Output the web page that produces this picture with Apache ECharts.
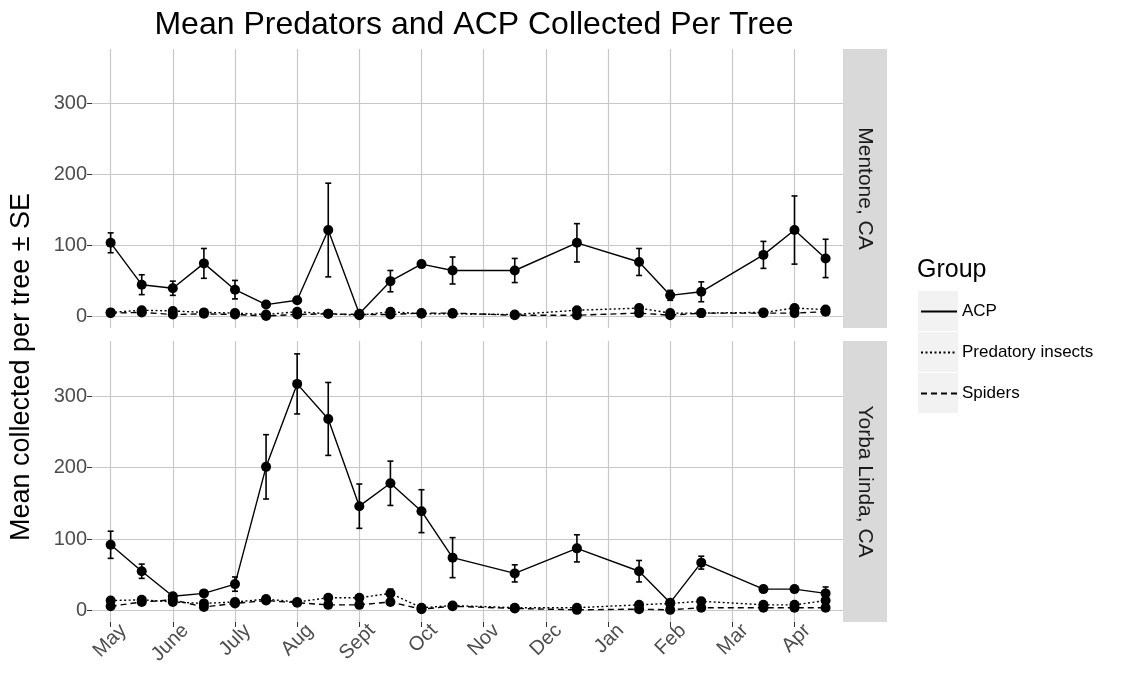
<!DOCTYPE html>
<html>
<head>
<meta charset="utf-8">
<script src="https://cdn.jsdelivr.net/npm/echarts@6/dist/echarts.min.js"></script>
<style>
  html, body { margin: 0; padding: 0; background: #fff; }
  #chart { width: 1141px; height: 682px; }
</style>
</head>
<body>
<div id="chart"></div>
<script>
// Month tick positions (1 = May ... 12 = Apr) and their labels
const monthTicks = [1, 2, 3, 4, 5, 6, 7, 8, 9, 10, 11, 12];
const monthLabels = ['May', 'June', 'July', 'Aug', 'Sept', 'Oct', 'Nov', 'Dec', 'Jan', 'Feb', 'Mar', 'Apr'];
const yTicks = [0, 100, 200, 300];

// Sampling dates, in month units (x.5 = mid-month)
const sampleX = [1, 1.5, 2, 2.5, 3, 3.5, 4, 4.5, 5, 5.5, 6, 6.5, 7.5, 8.5, 9.5, 10, 10.5, 11.5, 12, 12.5];

// Mentone, CA
const mentoneACP     = [104, 45, 40, 75, 38, 17, 23, 122, 4, 50, 74, 65, 65, 104, 77, 30, 35, 87, 122, 82];
const mentoneACPse   = [14, 14, 10, 21, 13, 3, 3, 66, 2, 15, 4, 19, 17, 27, 19, 7, 14, 19, 48, 27];
const mentonePred    = [6, 9, 8, 6, 5, 3, 7, 4, 2, 7, 4, 4, 3, 9, 12, 5, 5, 6, 12, 10];
const mentonePredSe  = [2, 3, 3, 2, 2, 1, 3, 2, 1, 3, 1, 1, 1, 3, 4, 2, 2, 2, 4, 3];
const mentoneSpid    = [5, 6, 3, 4, 3, 1, 3, 4, 3, 3, 5, 5, 2, 2, 5, 2, 5, 5, 5, 7];
const mentoneSpidSe  = [2, 2, 1, 1, 1, 1, 1, 1, 1, 1, 1, 1, 1, 1, 2, 1, 1, 1, 2, 2];

// Yorba Linda, CA
const yorbaACP       = [92, 55, 20, 24, 37, 201, 317, 268, 146, 178, 139, 74, 52, 87, 55, 11, 67, 30, 30, 24];
const yorbaACPse     = [19, 10, 4, 3, 10, 45, 42, 51, 31, 31, 30, 28, 12, 19, 15, 3, 9, 4, 4, 9];
const yorbaPred      = [14, 15, 12, 10, 12, 16, 12, 18, 18, 24, 4, 7, 4, 4, 8, 10, 13, 8, 8, 14];
const yorbaPredSe    = [3, 3, 3, 2, 3, 3, 2, 4, 4, 6, 1, 2, 1, 1, 2, 3, 3, 2, 2, 4];
const yorbaSpid      = [6, 12, 15, 5, 10, 14, 11, 8, 8, 12, 2, 6, 3, 1, 2, 1, 4, 4, 4, 4];
const yorbaSpidSe    = [2, 3, 3, 1, 2, 3, 2, 2, 2, 3, 1, 2, 1, 1, 1, 1, 1, 1, 1, 1];

const groups = ['ACP', 'Predatory insects', 'Spiders'];
const dashes = { 'ACP': 'solid', 'Predatory insects': [2, 2.5], 'Spiders': [6, 4] };

const FONT = '"Liberation Sans", Arial, sans-serif';

const chart = echarts.init(document.getElementById('chart'), null, { renderer: 'canvas' });

const panels = [
  { name: 'Mentone, CA', top: 49, bottom: 328,
    data: { 'ACP': [mentoneACP, mentoneACPse], 'Predatory insects': [mentonePred, mentonePredSe], 'Spiders': [mentoneSpid, mentoneSpidSe] } },
  { name: 'Yorba Linda, CA', top: 341, bottom: 622,
    data: { 'ACP': [yorbaACP, yorbaACPse], 'Predatory insects': [yorbaPred, yorbaPredSe], 'Spiders': [yorbaSpid, yorbaSpidSe] } }
];

const PANEL_LEFT = 92, PANEL_RIGHT = 843, STRIP_W = 44;

function renderErr(params, api) {
  const x = api.value(0), lo = api.value(1), hi = api.value(2);
  const a = api.coord([x, lo]), b = api.coord([x, hi]);
  const w = 3;
  const st = { stroke: '#000', lineWidth: 1.6 };
  return {
    type: 'group',
    children: [
      { type: 'line', shape: { x1: a[0], y1: a[1], x2: b[0], y2: b[1] }, style: st },
      { type: 'line', shape: { x1: a[0] - w, y1: a[1], x2: a[0] + w, y2: a[1] }, style: st },
      { type: 'line', shape: { x1: b[0] - w, y1: b[1], x2: b[0] + w, y2: b[1] }, style: st }
    ]
  };
}

const grids = [], xAxes = [], yAxes = [], series = [], graphics = [];

panels.forEach((p, i) => {
  grids.push({ left: PANEL_LEFT, right: 1141 - PANEL_RIGHT, top: p.top, height: p.bottom - p.top });
  const isBottom = i === panels.length - 1;
  xAxes.push({
    type: 'value', gridIndex: i, min: 0.7, max: 12.78,
    axisLine: { show: false, onZero: false },
    axisTick: { show: isBottom, length: 5, customValues: monthTicks, lineStyle: { color: '#333', width: 1 } },
    axisLabel: {
      show: isBottom, customValues: monthTicks, rotate: 45, margin: 4,
      verticalAlign: 'top', padding: [0, -8, 0, 0],
      color: '#4d4d4d', fontSize: 20, fontFamily: FONT,
      formatter: v => monthLabels[Math.round(v) - 1]
    },
    splitLine: { show: true, lineStyle: { color: '#c8c8c8', width: 1.2 } }
  });
  yAxes.push({
    type: 'value', gridIndex: i, min: -16, max: 377,
    axisLine: { show: false },
    axisTick: { show: true, length: 5, customValues: yTicks, lineStyle: { color: '#333', width: 1 } },
    axisLabel: { customValues: yTicks, margin: 5, color: '#4d4d4d', fontSize: 20, fontFamily: FONT },
    splitLine: { show: true, lineStyle: { color: '#c8c8c8', width: 1.2 } }
  });

  groups.forEach(g => {
    const [vals, se] = p.data[g];
    series.push({
      name: g + ' SE', type: 'custom', xAxisIndex: i, yAxisIndex: i,
      renderItem: renderErr, encode: { x: 0, y: [1, 2] }, silent: true, z: 3,
      data: sampleX.map((x, k) => [x, vals[k] - se[k], vals[k] + se[k]])
    });
    series.push({
      name: g, type: 'line', xAxisIndex: i, yAxisIndex: i,
      data: sampleX.map((x, k) => [x, vals[k]]),
      symbol: 'circle', symbolSize: 10, showSymbol: true,
      itemStyle: { color: '#000' },
      lineStyle: { color: '#000', width: 1.4, type: dashes[g] },
      animation: false, z: 4
    });
  });

  // facet strip on the right
  graphics.push({
    type: 'rect', left: PANEL_RIGHT, top: p.top,
    shape: { width: STRIP_W, height: p.bottom - p.top }, style: { fill: '#d9d9d9' }, silent: true
  });
  graphics.push({
    type: 'text', x: PANEL_RIGHT + STRIP_W / 2, y: (p.top + p.bottom) / 2, rotation: -Math.PI / 2,
    style: { text: p.name, fill: '#1a1a1a', fontSize: 21, fontFamily: FONT, align: 'center', verticalAlign: 'middle' },
    silent: true
  });
});

// y axis title
graphics.push({
  type: 'text', x: 22, y: 367, rotation: Math.PI / 2,
  style: { text: 'Mean collected per tree \u00b1 SE', fill: '#000', fontSize: 27, fontFamily: FONT, align: 'center', verticalAlign: 'middle' },
  silent: true
});

// legend key backgrounds
const keyTop = 291;
for (let k = 0; k < 3; k++) {
  graphics.push({
    type: 'rect', left: 918, top: keyTop + k * 41,
    shape: { width: 40, height: 40 }, style: { fill: '#f2f2f2' }, silent: true, z: -1
  });
}
graphics.push({
  type: 'text', x: 917, y: 270,
  style: { text: 'Group', fill: '#000', fontSize: 25, fontFamily: FONT, align: 'left', verticalAlign: 'middle' },
  silent: true
});

chart.setOption({
  animation: false,
  backgroundColor: '#fff',
  title: {
    text: 'Mean Predators and ACP Collected Per Tree',
    left: 469, top: 4, textAlign: 'center',
    textStyle: { fontSize: 32, fontWeight: 'normal', color: '#000', fontFamily: FONT }
  },
  legend: {
    data: groups, orient: 'vertical', left: 920, top: 303, padding: 0,
    itemWidth: 36, itemHeight: 20, itemGap: 24,
    itemStyle: { opacity: 0 },
    textStyle: { fontSize: 17, color: '#000', fontFamily: FONT },
    selectedMode: false
  },
  grid: grids,
  xAxis: xAxes,
  yAxis: yAxes,
  series: series,
  graphic: graphics
});
</script>
</body>
</html>
